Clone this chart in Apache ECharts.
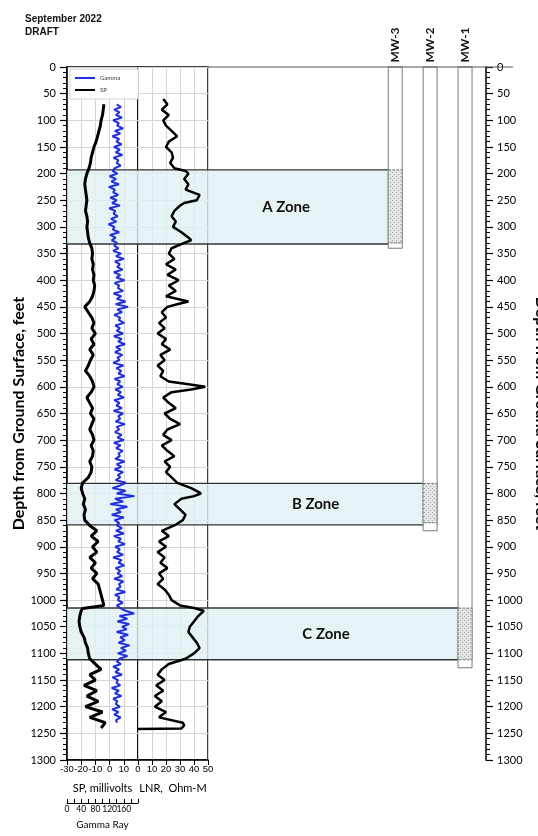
<!DOCTYPE html>
<html>
<head>
<meta charset="utf-8">
<script src="https://cdn.jsdelivr.net/npm/echarts@6.0.0/dist/echarts.min.js"></script>
<style>
  html, body { margin: 0; padding: 0; background: #fff; }
  #chart { width: 538px; height: 836px; }
</style>
</head>
<body>
<div id="chart"></div>
<script>
// ---- log data (depth in feet) ----
var spDepth = [70, 80, 90, 100, 110, 120, 130, 140, 150, 160, 170, 180, 190,
  200, 210, 220, 230, 240, 250, 260, 270, 280, 290, 300, 310, 320, 330,
  340, 350, 360, 370, 380, 390, 400, 410, 420, 430, 440, 450,
  460, 470, 480, 490, 500, 510, 520, 530, 540, 550, 560, 570, 580, 590,
  600, 610, 620, 630, 640, 650, 660, 670, 680, 690, 700, 710, 720, 730, 740, 750, 760, 770,
  780, 790, 800, 810, 820, 830, 840, 850, 860,
  870, 880, 890, 900, 910, 920, 930, 940, 950, 960, 970, 980, 990, 1000, 1010,
  1016,
  1020, 1030, 1040, 1050, 1060, 1070, 1080, 1090, 1100, 1110, 1120, 1130, 1140, 1150,
  1160, 1170, 1180, 1190, 1200, 1210, 1220, 1230, 1240];
var spValue = [-4, -4.5, -5, -6, -6.5, -7.5, -8.5, -9.5, -11, -12, -13, -13.5, -14.5,
  -16, -17, -17.5, -17, -16.5, -16, -16.5, -17, -16, -15.5, -16, -15.5, -15, -14,
  -12.5, -12, -12.5, -11.5, -12, -11, -11.5, -10.5, -11, -12, -14, -17.5,
  -15, -12.5, -11, -12.5, -10, -13, -11, -14, -11.5, -13.5, -15, -17, -14, -12,
  -11, -13, -16, -14, -12, -13.5, -11, -12.5, -14, -12, -11, -13, -11.5, -12, -14, -12.5, -13, -15,
  -19, -20, -19, -17.5, -18.5, -17, -18, -17.5, -14,
  -9, -13, -8, -12, -9, -14, -10, -13, -9, -12, -8, -7, -6, -5, -4,
  -19,
  -20, -21, -21.5, -21, -20, -18, -17, -15.5, -15, -14, -10, -6, -14, -10,
  -18, -9, -16, -8, -17, -5, -14, -3, -6];

var lnrDepth = [60, 70, 80, 90, 100, 110, 120, 130, 140, 150, 160, 170, 180, 190, 195,
  200, 210, 220, 230, 240, 250, 255, 260, 270, 280, 290, 300, 310, 320, 325,
  330, 340, 350, 360, 370, 380, 390, 400, 410, 420, 430, 440, 445,
  450, 460, 470, 480, 490, 500, 510, 520, 530, 540, 550, 560, 570, 580, 590, 595, 600, 605,
  610, 620, 630, 640, 650, 660, 670, 680, 690, 700, 710, 720, 730, 740, 750, 760, 770, 780, 790, 800, 805,
  810, 820, 830, 840, 850, 860, 870, 880, 890, 900, 910, 920, 930, 940, 950, 960, 970, 980, 990, 1000, 1010, 1015,
  1020, 1030, 1040, 1050, 1060, 1070, 1080, 1090, 1100, 1110, 1120, 1130, 1140, 1150, 1160, 1170, 1180, 1190,
  1200, 1210, 1220, 1230, 1235, 1241, 1242];
var lnrValue = [18, 21, 17, 22, 18, 20, 24, 28, 22, 20, 24, 25, 23, 26, 34,
  36, 33, 36, 34, 44, 42, 33, 30, 26, 24, 27, 25, 31, 36, 38,
  33, 24, 22, 26, 20, 27, 21, 29, 22, 27, 20, 36, 28,
  21, 17, 20, 15, 19, 14, 20, 17, 23, 16, 19, 14, 18, 16, 22, 36, 48, 38,
  24, 18, 22, 27, 19, 23, 30, 21, 18, 24, 17, 21, 26, 19, 23, 20, 24, 28, 38, 45, 40,
  31, 26, 30, 34, 32, 26, 17, 22, 15, 20, 14, 19, 16, 21, 15, 18, 14, 19, 22, 24, 30, 40,
  47, 43, 40, 37, 36, 39, 42, 44, 40, 34, 22, 17, 14, 19, 13, 18, 12, 17,
  12, 20, 15, 32, 33, 31, 0];

// gamma ray, sampled every 5 ft starting at 70 ft
var gammaTop = 70;
var gammaStep = 5;
var gammaValue = [
  140, 152, 133, 148, 138, 155, 130, 146, 141, 158, 135, 150, 128, 147, 139, 154, 132, 149, 137, 156, 131, 145, 140, 151, 134,
  128, 142, 120, 138, 125, 146, 118, 135, 130, 144, 122, 140, 127, 149, 119, 136, 131, 143, 124, 139, 117, 134, 129, 147, 121, 137, 126, 141, 133,
  145, 130, 152, 138, 160, 135, 149, 141, 157, 132,
  150, 139, 162, 134, 147, 143, 158, 131, 153, 140,
  165, 137, 172, 142, 155, 133, 150, 146, 161, 136,
  149, 140, 158, 132, 154, 144, 163, 138, 151, 135,
  156, 142, 148, 130, 159, 139, 153, 145, 162, 134,
  150, 141, 157, 136, 152, 143, 160, 133, 148, 139,
  155, 131, 158, 144, 150, 137, 163, 140, 147, 135,
  154, 142, 160, 132, 151, 138, 157, 145, 149, 136,
  162, 140, 153, 134, 158, 143, 150, 137, 166,
  150, 128, 165, 140, 190, 135, 158, 122, 170, 138, 152, 126, 160, 134, 147, 140,
  155, 138, 160, 132, 152, 144, 163, 136, 149, 141, 158, 130, 154, 145, 161, 137, 150, 142, 156, 133, 159, 146, 151, 139, 164, 135, 148, 143, 157, 140,
  150, 165, 189, 148, 170, 142, 175, 155, 168, 140, 172, 150, 163, 145, 176, 152, 166, 143, 170, 148,
  140, 152, 130, 147, 136, 155, 128, 144, 139, 150, 126, 146, 135, 153, 130, 142, 137, 149, 127, 145, 133, 151, 138, 141];

// ---- wells and zones ----
var wellNames = ['MW-3', 'MW-2', 'MW-1'];
var wellDepth = [340, 870, 1127];
var screenTop = [193, 781, 1015];
var screenBottom = [330, 855, 1112];

var zoneNames = ['A Zone', 'B Zone', 'C Zone'];
var zoneTop = [193, 781, 1015];
var zoneBottom = [332, 859, 1112];
var zoneWell = [0, 1, 2];

var depthTicks = { min: 0, max: 1300, step: 50 };

// ---- layout / style ----
var LOG_RIGHT = 208;
var TUBE_HALF = 0.2;
var zoneLabelShift = [-12, 0, -7];
var FONT = 'Lato';
var SANS = 'Liberation Sans';

function dotPattern(bg, dot) {
  var c = document.createElement('canvas');
  c.width = 4; c.height = 4;
  var g = c.getContext('2d');
  g.fillStyle = bg; g.fillRect(0, 0, 4, 4);
  g.fillStyle = dot; g.fillRect(0, 0, 1, 1); g.fillRect(2, 2, 1, 1);
  return { type: 'pattern', image: c, repeat: 'repeat' };
}
var zoneFill = dotPattern('#e4f2f5', '#d0e6eb');
var screenFill = dotPattern('#e4e4e4', '#a8a8a8');

var chart = echarts.init(document.getElementById('chart'), null, { renderer: 'canvas' });

function plain(v) { return String(v); }

function depthAxis(grid, extra) {
  var ax = {
    gridIndex: grid, type: 'value', inverse: true,
    min: depthTicks.min, max: depthTicks.max, interval: depthTicks.step
  };
  for (var k in extra) ax[k] = extra[k];
  return ax;
}

var option = {
  animation: false,
  backgroundColor: '#fff',
  title: {
    text: 'September 2022\nDRAFT',
    left: 20, top: 8,
    textStyle: { fontFamily: SANS, fontWeight: 'bold', fontSize: 10, lineHeight: 13, color: '#111' }
  },
  legend: {
    data: ['Gamma', 'SP'],
    orient: 'vertical',
    left: 70, top: 69,
    itemWidth: 20, itemHeight: 7, itemGap: 6,
    padding: [6, 18, 6, 4],
    backgroundColor: '#fff',
    borderColor: '#c8c8c8', borderWidth: 0.8,
    itemStyle: { opacity: 0 },
    textStyle: { fontSize: 6, color: '#333', fontFamily: FONT }
  },
  grid: [
    { left: 67, top: 67, width: 71, height: 693, show: true, borderColor: '#000', borderWidth: 1.5, outerBoundsMode: 'none' },
    { left: 138, top: 67, width: 70, height: 693, show: true, borderColor: '#000', borderWidth: 1.5, outerBoundsMode: 'none' },
    { left: 67, top: 67, width: 419, height: 693, outerBoundsMode: 'none' }
  ],
  xAxis: [
    {
      gridIndex: 0, type: 'value', min: -30, max: 20, interval: 10, position: 'bottom',
      axisLine: { show: true, onZero: false, lineStyle: { color: '#000', width: 1.5 } },
      axisTick: { show: true, length: 5, lineStyle: { color: '#000' } },
      axisLabel: {
        fontFamily: SANS, fontSize: 9.5, color: '#000', margin: 4, hideOverlap: false, showMinLabel: true,
        formatter: function (v) { return v === 20 ? '' : String(v); }
      },
      splitLine: { show: true, lineStyle: { color: '#d6d6d6' } },
      name: 'SP, millivolts', nameLocation: 'middle', nameGap: 23,
      nameTextStyle: { fontFamily: FONT, fontSize: 11, color: '#000' }
    },
    {
      gridIndex: 0, type: 'value', min: 0, max: 200, interval: 20, position: 'bottom', offset: 43,
      axisLine: { show: true, onZero: false, lineStyle: { color: '#000', width: 1 } },
      axisTick: { show: true, inside: true, length: 4, lineStyle: { color: '#000' } },
      axisLabel: {
        fontFamily: FONT, fontSize: 8.5, color: '#000', margin: 2, hideOverlap: false, showMinLabel: true,
        formatter: function (v) { return (v % 40 === 0 && v < 200) ? String(v) : ''; }
      },
      splitLine: { show: false },
      name: 'Gamma Ray', nameLocation: 'middle', nameGap: 17,
      nameTextStyle: { fontFamily: FONT, fontSize: 10, color: '#000' }
    },
    {
      gridIndex: 1, type: 'value', min: 0, max: 50, interval: 10, position: 'bottom',
      axisLine: { show: true, onZero: false, lineStyle: { color: '#000', width: 1.5 } },
      axisTick: { show: true, length: 5, lineStyle: { color: '#000' } },
      axisLabel: { fontFamily: SANS, fontSize: 9.5, color: '#000', margin: 4, hideOverlap: false, showMinLabel: true, showMaxLabel: true },
      splitLine: { show: true, lineStyle: { color: '#d6d6d6' } },
      name: 'LNR,  Ohm-M', nameLocation: 'middle', nameGap: 23,
      nameTextStyle: { fontFamily: FONT, fontSize: 11, color: '#000' }
    },
    { gridIndex: 2, type: 'value', min: -9.4, max: 2.6, show: false }
  ],
  yAxis: [
    depthAxis(0, {
      axisLine: { show: true, onZero: false, lineStyle: { color: '#000', width: 1.5 } },
      axisTick: { show: true, length: 7, lineStyle: { color: '#000', width: 1.2 } },
      minorTick: { show: true, splitNumber: 5, length: 4, lineStyle: { color: '#000', width: 1 } },
      axisLabel: { fontFamily: FONT, fontSize: 11, color: '#000', margin: 11, formatter: plain },
      splitLine: { show: true, lineStyle: { color: '#d6d6d6' } },
      name: 'Depth from Ground Surface, feet', nameLocation: 'middle', nameGap: 35, nameRotate: 90,
      nameTextStyle: { fontFamily: FONT, fontWeight: 'bold', fontSize: 16, color: '#000' }
    }),
    depthAxis(1, {
      axisLine: { show: false, onZero: false }, axisTick: { show: false }, axisLabel: { show: false },
      splitLine: { show: true, lineStyle: { color: '#d6d6d6' } }
    }),
    depthAxis(2, {
      position: 'right',
      axisLine: { show: true, onZero: false, lineStyle: { color: '#000', width: 1.5 } },
      axisTick: { show: true, length: 7, lineStyle: { color: '#000', width: 1.2 } },
      minorTick: { show: true, splitNumber: 5, length: 4, lineStyle: { color: '#000', width: 1 } },
      axisLabel: { fontFamily: FONT, fontSize: 11, color: '#000', margin: 11, formatter: plain },
      splitLine: { show: false },
      name: 'Depth from Ground Surface, feet', nameLocation: 'middle', nameGap: 35, nameRotate: -90,
      nameTextStyle: { fontFamily: FONT, fontWeight: 'bold', fontSize: 16, color: '#000' }
    })
  ],
  graphic: [
    { type: 'line', shape: { x1: LOG_RIGHT, y1: 67, x2: 513, y2: 67 }, style: { stroke: '#555', lineWidth: 1.2 }, z: 10 }
  ],
  series: [
    {
      name: 'zones', type: 'custom', xAxisIndex: 3, yAxisIndex: 2, z: 1, clip: false, silent: true,
      data: zoneTop.map(function (t, i) { return [zoneWell[i], t, zoneBottom[i]]; }),
      renderItem: function (params, api) {
        var i = params.dataIndex;
        var w = api.value(0);
        var yTop = api.coord([w, api.value(1)])[1];
        var yBot = api.coord([w, api.value(2)])[1];
        var xRight = api.coord([w + TUBE_HALF, 0])[0];
        var xWellLeft = api.coord([w - TUBE_HALF, 0])[0];
        var xLeft = params.coordSys.x;
        var labelX = (LOG_RIGHT + xWellLeft) / 2 + zoneLabelShift[i];
        return {
          type: 'group',
          children: [
            { type: 'rect', shape: { x: xLeft, y: yTop, width: xRight - xLeft, height: yBot - yTop },
              style: { fill: zoneFill, opacity: 0.8 } },
            { type: 'line', shape: { x1: xLeft, y1: yTop, x2: xRight, y2: yTop }, style: { stroke: '#333', lineWidth: 1.4 } },
            { type: 'line', shape: { x1: xLeft, y1: yBot, x2: xRight, y2: yBot }, style: { stroke: '#333', lineWidth: 1.4 } },
            { type: 'text', x: labelX, y: (yTop + yBot) / 2,
              style: { text: zoneNames[i], fill: '#111', fontFamily: FONT, fontWeight: 'bold', fontSize: 15,
                       align: 'center', verticalAlign: 'middle' } }
          ]
        };
      }
    },
    {
      name: 'wells', type: 'custom', xAxisIndex: 3, yAxisIndex: 2, z: 4, clip: false, silent: true,
      data: wellNames.map(function (n, i) { return [i, wellDepth[i], screenTop[i], screenBottom[i]]; }),
      renderItem: function (params, api) {
        var w = api.value(0);
        var xl = api.coord([w - TUBE_HALF, 0])[0];
        var xr = api.coord([w + TUBE_HALF, 0])[0];
        var y0 = api.coord([w, 0])[1];
        var yEnd = api.coord([w, api.value(1)])[1];
        var ys1 = api.coord([w, api.value(2)])[1];
        var ys2 = api.coord([w, api.value(3)])[1];
        return {
          type: 'group',
          children: [
            { type: 'rect', shape: { x: xl, y: y0, width: xr - xl, height: yEnd - y0 },
              style: { fill: '#fff', stroke: '#7a7a7a', lineWidth: 1 } },
            { type: 'rect', shape: { x: xl, y: ys1, width: xr - xl, height: ys2 - ys1 },
              style: { fill: screenFill, stroke: '#7a7a7a', lineWidth: 1, lineDash: [3, 1] } },
            { type: 'text', x: (xl + xr) / 2, y: y0 - 22, rotation: Math.PI / 2,
              style: { text: wellNames[params.dataIndex], fill: '#111', fontFamily: FONT, fontWeight: 'bold',
                       fontSize: 12, align: 'center', verticalAlign: 'middle' } }
          ]
        };
      }
    },
    {
      name: 'SP', type: 'line', xAxisIndex: 0, yAxisIndex: 0, z: 3,
      symbol: 'none', color: '#000',
      lineStyle: { color: '#000', width: 3 },
      data: spDepth.map(function (d, i) { return [spValue[i], d]; })
    },
    {
      name: 'Gamma', type: 'line', xAxisIndex: 1, yAxisIndex: 0, z: 3,
      symbol: 'none', color: '#1f2fe6',
      lineStyle: { color: '#1f2fe6', width: 2 },
      data: gammaValue.map(function (g, i) { return [g, gammaTop + i * gammaStep]; })
    },
    {
      name: 'LNR', type: 'line', xAxisIndex: 2, yAxisIndex: 1, z: 3,
      symbol: 'none', color: '#000',
      lineStyle: { color: '#000', width: 2.5 },
      data: lnrDepth.map(function (d, i) { return [lnrValue[i], d]; })
    }
  ]
};

chart.setOption(option);
</script>
</body>
</html>
